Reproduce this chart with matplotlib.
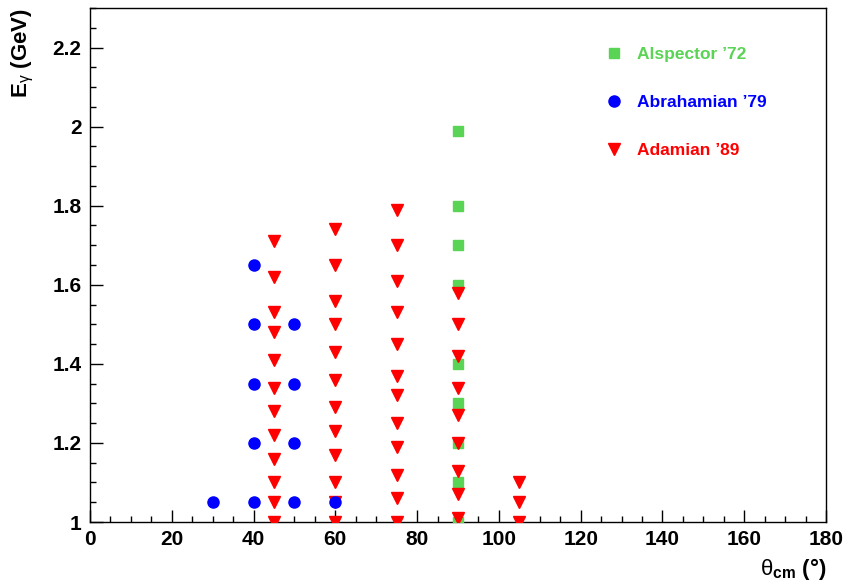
import numpy as np
import matplotlib
matplotlib.use('Agg')
import matplotlib.pyplot as plt
from matplotlib.ticker import MultipleLocator

plt.rcParams['font.family'] = ['Liberation Sans', 'DejaVu Sans']
plt.rcParams['mathtext.fontset'] = 'custom'
plt.rcParams['mathtext.rm'] = 'Liberation Sans'
plt.rcParams['mathtext.bf'] = 'Liberation Sans:bold'
plt.rcParams['mathtext.it'] = 'Liberation Sans:italic'

## DATA
# Alspector '72
alsp_theta = [90, 90, 90, 90, 90, 90, 90, 90, 90]
alsp_e = [1.0, 1.1, 1.2, 1.3, 1.4, 1.6, 1.7, 1.8, 1.99]

# Abrahamian '79
abra_theta = [30, 40, 40, 40, 40, 40, 50, 50, 50, 50, 60]
abra_e = [1.05, 1.05, 1.2, 1.35, 1.5, 1.65, 1.05, 1.2, 1.35, 1.5, 1.05]

# Adamian '89
adam_theta = ([45] * 12 + [60] * 12 + [75] * 12 + [90] * 9 + [105] * 3)
adam_e = [1.0, 1.05, 1.10, 1.16, 1.22, 1.28, 1.34, 1.41, 1.48, 1.53, 1.62, 1.71,
          1.0, 1.05, 1.10, 1.17, 1.23, 1.29, 1.36, 1.43, 1.50, 1.56, 1.65, 1.74,
          1.0, 1.06, 1.12, 1.19, 1.25, 1.32, 1.37, 1.45, 1.53, 1.61, 1.70, 1.79,
          1.01, 1.07, 1.13, 1.20, 1.27, 1.34, 1.42, 1.50, 1.58,
          1.0, 1.05, 1.10]

green = '#59d454'
blue = '#0000ff'
red = '#ff0000'

## FIGURE
fig = plt.figure(figsize=(8.43, 5.85), dpi=100)
ax = fig.add_axes([90 / 843, 63 / 585, 736 / 843, 514 / 585])

h_alsp, = ax.plot(alsp_theta, alsp_e, 's', color=green, markersize=7.5,
                  linestyle='none', label='Alspector ’72', zorder=3)
h_adam, = ax.plot(adam_theta, adam_e, 'v', color=red, markersize=8.5,
                  linestyle='none', label='Adamian ’89', zorder=4)
h_abra, = ax.plot(abra_theta, abra_e, 'o', color=blue, markersize=8,
                  linestyle='none', label='Abrahamian ’79', zorder=5)

ax.set_xlim(0, 180)
ax.set_ylim(1, 2.3)
ax.xaxis.set_major_locator(MultipleLocator(20))
ax.xaxis.set_minor_locator(MultipleLocator(5))
ax.yaxis.set_major_locator(MultipleLocator(0.2))
ax.yaxis.set_minor_locator(MultipleLocator(0.05))
ax.yaxis.set_major_formatter(plt.FuncFormatter(lambda v, p: ('%g' % round(v, 2))))

ax.tick_params(which='both', direction='in', top=False, right=False, width=1)
ax.tick_params(which='major', length=9, labelsize=15, pad=6)
ax.tick_params(which='minor', length=4.5)
for lab in ax.get_xticklabels() + ax.get_yticklabels():
    lab.set_fontweight('bold')
for sp in ax.spines.values():
    sp.set_linewidth(1)

ax.set_xlabel(r'$\mathrm{\theta}_{\mathbf{cm}}$ (°)', fontsize=16, fontweight='bold',
              loc='right', labelpad=5)
ax.set_ylabel(r'E$_{\mathrm{\gamma}}$ (GeV)', fontsize=16, fontweight='bold',
              loc='top', labelpad=12)

leg = ax.legend(handles=[h_alsp, h_abra, h_adam], loc='upper left',
                bbox_to_anchor=(0.679, 0.955), frameon=False, fontsize=12.5,
                labelspacing=1.9, handletextpad=0.85, handlelength=1.0,
                markerscale=1.0)
for txt, col in zip(leg.get_texts(), [green, blue, red]):
    txt.set_color(col)
    txt.set_fontweight('bold')

fig.savefig('out.png', dpi=100)
